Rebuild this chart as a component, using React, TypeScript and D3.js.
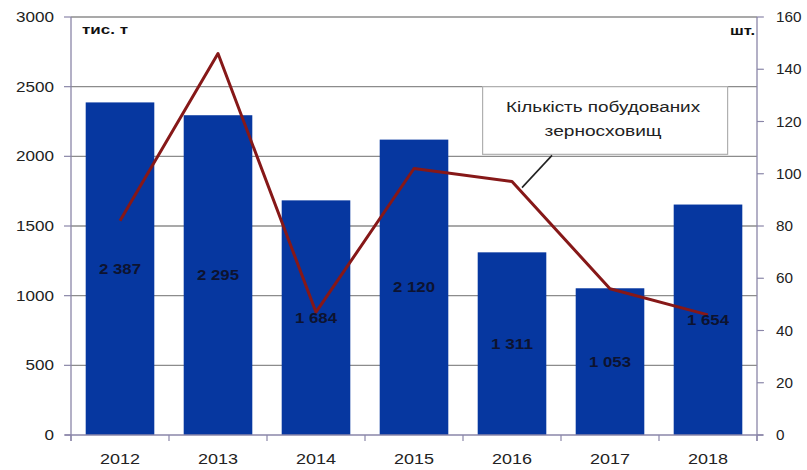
import React from "react";
import * as d3 from "d3";

const years = ["2012", "2013", "2014", "2015", "2016", "2017", "2018"];
const capacity = [2387, 2295, 1684, 2120, 1311, 1053, 1654];
const counts = [82, 146, 47, 102, 97, 56, 46];
const leftTicks = [0, 500, 1000, 1500, 2000, 2500, 3000];
const rightTicks = [0, 20, 40, 60, 80, 100, 120, 140, 160];
const leftUnit = "тис. т";
const rightUnit = "шт.";
const legendLines = ["Кількість побудованих", "зерносховищ"];

const W = 807;
const H = 470;
const M = { left: 71, right: 757, top: 17, bottom: 435 };
const FONT = "'Liberation Sans', Arial, sans-serif";

const fmt = d3.formatLocale({ thousands: " ", grouping: [3], decimal: ",", currency: ["", ""] }).format(",d");

export default function App() {
  const x = d3.scaleBand<string>().domain(years).range([M.left, M.right]).paddingInner(0.3).paddingOuter(0.15);
  const yL = d3.scaleLinear().domain([0, 3000]).range([M.bottom, M.top]);
  const yR = d3.scaleLinear().domain([0, 160]).range([M.bottom, M.top]);
  const step = (M.right - M.left) / years.length;
  const line = d3
    .line<number>()
    .x((_, i) => (x(years[i]) as number) + x.bandwidth() / 2)
    .y((d) => yR(d));

  const leaderFrom = { x: x("2016")! + x.bandwidth() / 2 + 10, y: yR(counts[4]) + 6 };
  const boxX0 = M.left + step * 4.2;
  const boxX1 = M.left + step * 6.7;
  const digitW = (s: string, w: number) => s.length * w;

  return (
    <svg width={W} height={H} style={{ position: "absolute", left: 0, top: 0, background: "#fff" }} fontFamily={FONT}>
      {leftTicks.filter((t) => t > 0).map((t) => (
        <line key={t} x1={M.left} x2={M.right} y1={yL(t)} y2={yL(t)} stroke="#8c8c8c" strokeWidth={1.3} />
      ))}
      {capacity.map((v, i) => (
        <rect key={years[i]} x={x(years[i])} y={yL(v)} width={x.bandwidth()} height={yL(0) - yL(v)} fill="#0637a0" />
      ))}
      <rect x={boxX0} y={yL(2500)} width={boxX1 - boxX0} height={yL(2000) - yL(2500) - 2} fill="#fff" stroke="#b0b0b0" strokeWidth={1.2} />
      {legendLines.map((s, i) => (
        <text key={s} x={(boxX0 + boxX1) / 2 - 2} y={yL(2500) + 25 + i * 24} textAnchor="middle" fontSize={14} fill="#222"
          textLength={i === 0 ? 194 : 117} lengthAdjust="spacingAndGlyphs">
          {s}
        </text>
      ))}
      <path d={line(counts) || ""} fill="none" stroke="#861818" strokeWidth={3} strokeLinejoin="round" />
      <line x1={leaderFrom.x} y1={leaderFrom.y} x2={leaderFrom.x + 30} y2={yL(2000) - 1} stroke="#222" strokeWidth={1.6} />
      {capacity.map((v, i) => (
        <text key={"l" + i} x={(x(years[i]) as number) + x.bandwidth() / 2} y={yL(v / 2) + 5} textAnchor="middle" fontSize={14} fontWeight="bold" fill="#0d1330"
          textLength={42} lengthAdjust="spacingAndGlyphs">
          {fmt(v)}
        </text>
      ))}
      <line x1={M.left} x2={M.left} y1={M.top} y2={M.bottom + 6} stroke="#8a86a8" strokeWidth={1.3} />
      <line x1={M.right} x2={M.right} y1={M.top} y2={M.bottom + 6} stroke="#8a86a8" strokeWidth={1.3} />
      <line x1={M.left - 6} x2={M.right + 6} y1={M.bottom} y2={M.bottom} stroke="#8a86a8" strokeWidth={1.3} />
      {leftTicks.map((t) => (
        <g key={"lt" + t}>
          <line x1={M.left - 7} x2={M.left} y1={yL(t)} y2={yL(t)} stroke="#8a86a8" strokeWidth={1.2} />
          <text x={M.left - 17} y={yL(t) + 5} textAnchor="end" fontSize={15} fill="#222"
            textLength={digitW(String(t), 9.5)} lengthAdjust="spacingAndGlyphs">
            {t}
          </text>
        </g>
      ))}
      {rightTicks.map((t) => (
        <g key={"rt" + t}>
          <line x1={M.right} x2={M.right + 7} y1={yR(t)} y2={yR(t)} stroke="#8a86a8" strokeWidth={1.2} />
          <text x={M.right + 19} y={yR(t) + 5} textAnchor="start" fontSize={15} fill="#222"
            textLength={digitW(String(t), 8.5)} lengthAdjust="spacingAndGlyphs">
            {t}
          </text>
        </g>
      ))}
      {d3.range(years.length + 1).map((i) => (
        <line key={"xt" + i} x1={M.left + i * step} x2={M.left + i * step} y1={M.bottom} y2={M.bottom + 6} stroke="#8a86a8" strokeWidth={1.2} />
      ))}
      {years.map((yr) => (
        <text key={"x" + yr} x={(x(yr) as number) + x.bandwidth() / 2} y={M.bottom + 29} textAnchor="middle" fontSize={15} fill="#222"
          textLength={40} lengthAdjust="spacingAndGlyphs">
          {yr}
        </text>
      ))}
      <text x={M.left + 11} y={M.top + 17} fontSize={13} fontWeight="bold" fill="#111" textLength={46} lengthAdjust="spacingAndGlyphs">
        {leftUnit}
      </text>
      <text x={M.right - 2} y={M.top + 18} textAnchor="end" fontSize={13} fontWeight="bold" fill="#111" textLength={25} lengthAdjust="spacingAndGlyphs">
        {rightUnit}
      </text>
    </svg>
  );
}
